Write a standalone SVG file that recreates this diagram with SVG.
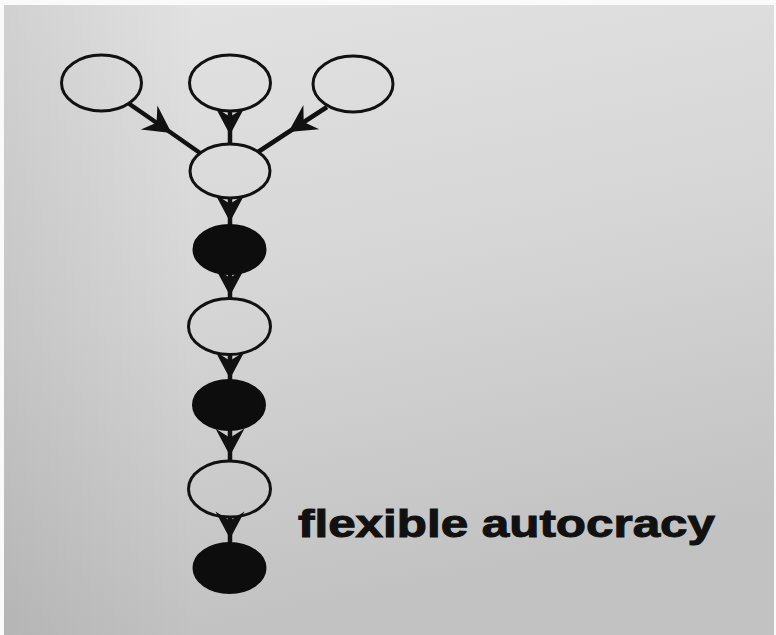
<svg xmlns="http://www.w3.org/2000/svg" width="776" height="635" viewBox="0 0 776 635">
<defs>
<linearGradient id="bg" x1="0" y1="0" x2="0.25" y2="1">
<stop offset="0" stop-color="#e3e3e3"/>
<stop offset="0.5" stop-color="#d6d6d6"/>
<stop offset="1" stop-color="#c2c2c2"/>
</linearGradient>
<linearGradient id="side" x1="0" y1="0" x2="1" y2="0">
<stop offset="0" stop-color="#000" stop-opacity="0.08"/>
<stop offset="0.25" stop-color="#000" stop-opacity="0"/>
</linearGradient>
<marker id="ah" markerUnits="userSpaceOnUse" markerWidth="40" markerHeight="40" viewBox="-20 -10 22 20" refX="0" refY="0" orient="auto">
<path d="M1,0 L-14,-8 L-9,0 L-14,8 Z" fill="#111"/>
</marker>
<style>
.w{fill:none;stroke:#111;stroke-width:3}
.b{fill:#0d0d0d;stroke:#0d0d0d;stroke-width:2}
.e{fill:none;stroke:#111;stroke-width:4.5;marker-mid:url(#ah)}
.lbl{font-family:"Liberation Sans",Arial,sans-serif;font-weight:bold;font-size:38px;fill:#111;stroke:#111;stroke-width:1}
</style>
</defs>
<rect width="776" height="635" fill="#fafafa"/>
<rect x="4" y="5" width="770" height="630" fill="url(#bg)"/>
<rect x="4" y="5" width="770" height="630" fill="url(#side)"/>
<g id="edges">
<path class="e" d="M128,103 L170,132 L200,153"/>
<path class="e" d="M230,111 L230,133 L230,144"/>
<path class="e" d="M327,107 L290,131 L258,152"/>
<path class="e" d="M230,198 L230,220 L230,226"/>
<path class="e" d="M230,274 L230,294 L230,299"/>
<path class="e" d="M230,355 L230,377 L230,381"/>
<path class="e" d="M230,430 L230,454 L230,462"/>
<path class="e" d="M230,517 L230,537 L230,544"/>
</g>
<g id="n1"><ellipse class="w" cx="101.5" cy="83" rx="40" ry="28"/></g>
<g id="n2"><ellipse class="w" cx="230" cy="83" rx="40.5" ry="28"/></g>
<g id="n3"><ellipse class="w" cx="353" cy="84" rx="40" ry="28"/></g>
<g id="n4"><ellipse class="w" cx="230" cy="171" rx="40" ry="27"/></g>
<g id="n5"><ellipse class="b" cx="229.5" cy="249.5" rx="36" ry="24.5"/></g>
<g id="n6"><ellipse class="w" cx="229.5" cy="326.5" rx="41" ry="28"/></g>
<g id="n7"><ellipse class="b" cx="229" cy="405" rx="36" ry="25"/></g>
<g id="n8"><ellipse class="w" cx="229.5" cy="489" rx="41" ry="28"/></g>
<g id="n9"><ellipse class="b" cx="229.5" cy="568" rx="36" ry="25"/></g>
<text class="lbl" x="298" y="537" textLength="417" lengthAdjust="spacingAndGlyphs">flexible autocracy</text>
</svg>
